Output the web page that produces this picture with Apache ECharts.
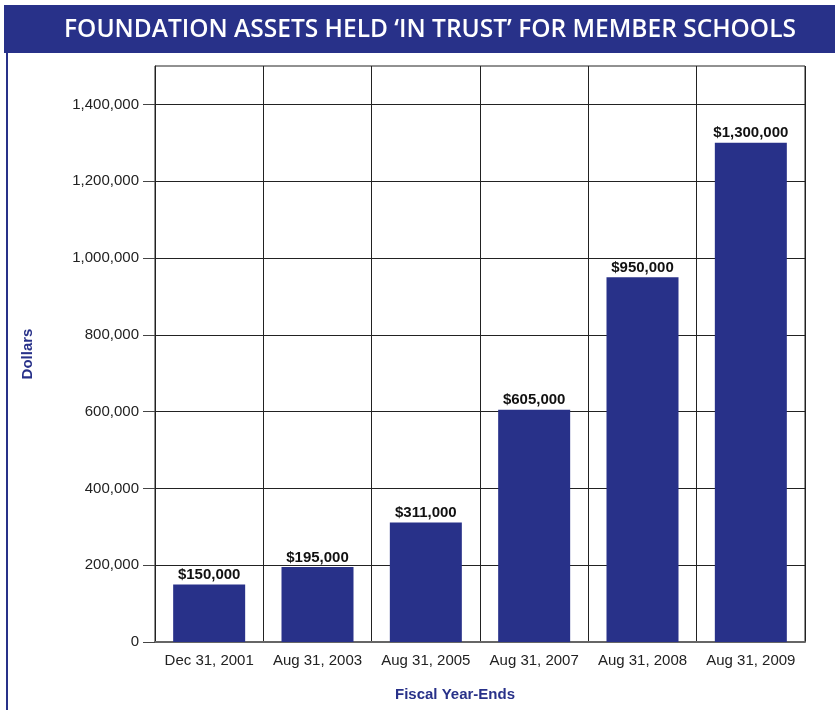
<!DOCTYPE html>
<html>
<head>
    <meta charset="utf-8">
    <script src="https://cdn.jsdelivr.net/npm/echarts@6/dist/echarts.min.js"></script>
    <style>
        body { margin: 0; padding: 0; background: #fff; }
        #chart { width: 835px; height: 710px; }
    </style>
</head>
<body>
    <div id="chart"></div>
    <script>
        var categories = ['Dec 31, 2001', 'Aug 31, 2003', 'Aug 31, 2005', 'Aug 31, 2007', 'Aug 31, 2008', 'Aug 31, 2009'];
        var assets = [150000, 195000, 311000, 605000, 950000, 1300000];
        var yTicks = [0, 200000, 400000, 600000, 800000, 1000000, 1200000, 1400000];

        var navy = '#283189';
        var font = 'Arial, Liberation Sans';
        var chart = echarts.init(document.getElementById('chart'));

        function fmt(v) {
            return v.toString().replace(/\B(?=(\d{3})+(?!\d))/g, ',');
        }

        chart.setOption({
            animation: false,
            graphic: [
                // title band and left rule
                { type: 'rect', left: 4, top: 5, shape: { width: 831, height: 48 }, style: { fill: navy } },
                { type: 'rect', left: 6, top: 53, shape: { width: 2, height: 660 }, style: { fill: navy } }
            ],
            title: [{
                text: 'FOUNDATION ASSETS HELD \u2018IN TRUST\u2019 FOR MEMBER SCHOOLS',
                left: 425,
                top: 13,
                textAlign: 'center',
                textStyle: { color: '#fff', fontFamily: 'Open Sans', fontWeight: 600, fontSize: 24.5 }
            }, {
                text: 'Fiscal Year-Ends',
                left: 450,
                top: 682,
                textAlign: 'center',
                textStyle: { color: navy, fontFamily: font, fontWeight: 'bold', fontSize: 15 }
            }],
            grid: { left: 155, right: 30, top: 66, bottom: 68, show: true, borderColor: '#222', borderWidth: 1 },
            xAxis: {
                type: 'category',
                data: categories,
                axisLine: { lineStyle: { color: '#666', width: 2 } },
                axisTick: { show: false },
                axisLabel: { interval: 0, color: '#222', fontFamily: font, fontSize: 15, margin: 11 },
                splitLine: { show: true, interval: 0, lineStyle: { color: '#222', width: 1 } }
            },
            yAxis: {
                type: 'value',
                min: 0,
                max: 1500000,
                interval: 100000,
                name: 'Dollars',
                nameLocation: 'middle',
                nameGap: 120,
                nameTextStyle: { color: navy, fontFamily: font, fontWeight: 'bold', fontSize: 15 },
                axisLine: { show: true, lineStyle: { color: '#222' } },
                axisTick: { show: true, length: 12, customValues: yTicks, lineStyle: { color: '#444' } },
                axisLabel: {
                    customValues: yTicks,
                    color: '#222', fontFamily: font, fontSize: 15, margin: 16,
                    formatter: function (v) { return fmt(v); }
                },
                splitLine: { show: true, lineStyle: { color: '#222', width: 1 } }
            },
            series: [{
                type: 'bar',
                data: assets,
                barWidth: 72,
                itemStyle: { color: navy },
                label: {
                    show: true,
                    position: 'top',
                    distance: 2,
                    color: '#111',
                    fontFamily: font,
                    fontWeight: 'bold',
                    fontSize: 15,
                    formatter: function (p) { return '$' + fmt(p.value); }
                }
            }]
        });
    </script>
</body>
</html>
